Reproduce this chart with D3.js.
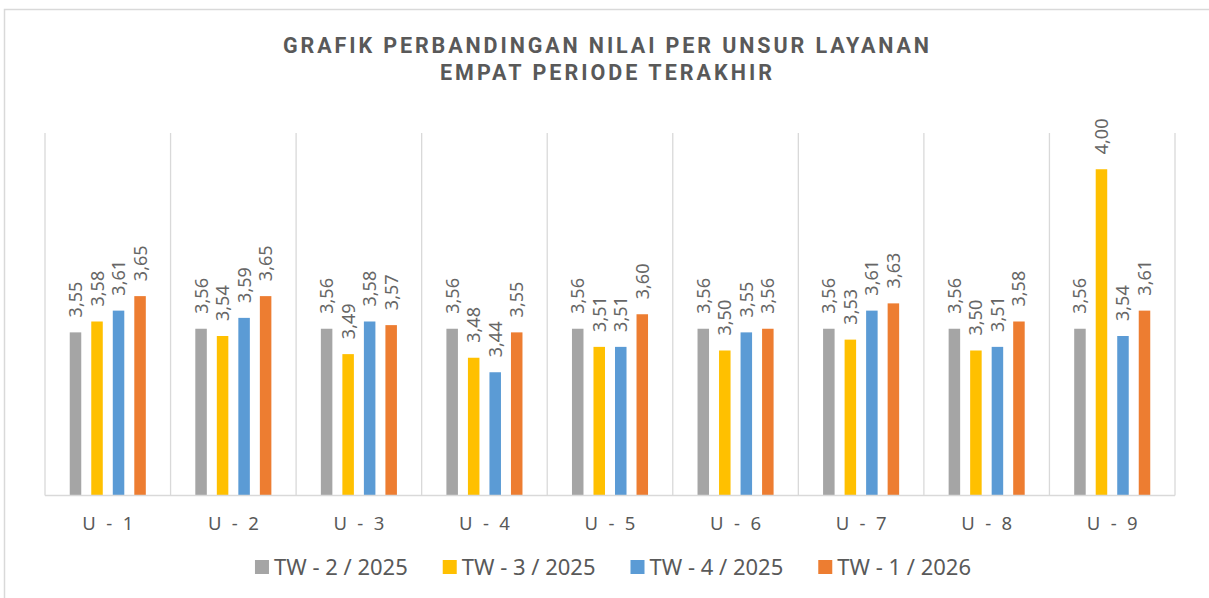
<!DOCTYPE html>
<html>
<head>
<meta charset="utf-8">
<script src="https://cdn.jsdelivr.net/npm/d3@7"></script>
<style>
  body { margin: 0; background: #fff; }
  svg { display: block; }
  text { font-family: "Noto Sans", sans-serif; fill: #595959; }
</style>
</head>
<body>
<svg id="chart" width="1209" height="598"></svg>
<script>
var categories = ['U - 1', 'U - 2', 'U - 3', 'U - 4', 'U - 5', 'U - 6', 'U - 7', 'U - 8', 'U - 9'];
var periods = ['TW - 2 / 2025', 'TW - 3 / 2025', 'TW - 4 / 2025', 'TW - 1 / 2026'];
var tw2_2025 = [3.55, 3.56, 3.56, 3.56, 3.56, 3.56, 3.56, 3.56, 3.56];
var tw3_2025 = [3.58, 3.54, 3.49, 3.48, 3.51, 3.50, 3.53, 3.50, 4.00];
var tw4_2025 = [3.61, 3.59, 3.58, 3.44, 3.51, 3.55, 3.61, 3.51, 3.54];
var tw1_2026 = [3.65, 3.65, 3.57, 3.55, 3.60, 3.56, 3.63, 3.58, 3.61];
var titleLines = ['GRAFIK PERBANDINGAN NILAI PER UNSUR LAYANAN', 'EMPAT PERIODE TERAKHIR'];

var seriesValues = [tw2_2025, tw3_2025, tw4_2025, tw1_2026];
var colors = ['#a5a5a5', '#ffc000', '#5b9bd5', '#ed7d31'];

var svg = d3.select('#chart');
var plot = { left: 45, right: 1175, top: 133, bottom: 495.5 };

// chart frame (top and left edges visible)
svg.append('path')
    .attr('d', 'M4.5,598 V9.5 H1209')
    .style('fill', 'none')
    .style('stroke', '#d9d9d9')
    .style('stroke-width', 1.5);

/* Title */
var titleWidths = [646, 332];
svg.append('g').selectAll('text')
    .data(titleLines)
    .join('text')
    .attr('x', 606)
    .attr('y', function(d, i) { return 53 + i * 27; })
    .attr('text-anchor', 'middle')
    .attr('textLength', function(d, i) { return titleWidths[i]; })
    .attr('lengthAdjust', 'spacing')
    .style('font-family', 'Roboto, "Liberation Sans", sans-serif')
    .style('font-weight', 'bold')
    .style('font-size', '21.5px')
    .text(function(d) { return d; });

/* Scales */
var x0 = d3.scaleBand().domain(categories).range([plot.left, plot.right]);
var x1 = d3.scaleBand().domain(d3.range(periods.length))
    .range([0, x0.bandwidth()])
    .paddingInner(0.465)
    .paddingOuter(1.15);
var y = d3.scaleLinear().domain([3.1, 4.1]).range([plot.bottom, plot.top]);

/* Grid */
var bounds = categories.map(function(c) { return x0(c); }).concat([plot.right]);
svg.append('g').selectAll('line')
    .data(bounds)
    .join('line')
    .attr('x1', function(d) { return d; })
    .attr('x2', function(d) { return d; })
    .attr('y1', plot.top)
    .attr('y2', plot.bottom)
    .style('stroke', '#d9d9d9')
    .style('stroke-width', 1.3);

/* Bars */
var groups = svg.append('g').selectAll('g')
    .data(categories)
    .join('g')
    .attr('transform', function(d) { return 'translate(' + x0(d) + ',0)'; });

groups.selectAll('rect')
    .data(function(d, ci) {
        return seriesValues.map(function(s, si) { return { s: si, v: s[ci] }; });
    })
    .join('rect')
    .attr('x', function(d) { return x1(d.s); })
    .attr('width', x1.bandwidth())
    .attr('y', function(d) { return y(d.v); })
    .attr('height', function(d) { return plot.bottom - y(d.v); })
    .style('fill', function(d) { return colors[d.s]; });

groups.selectAll('text')
    .data(function(d, ci) {
        return seriesValues.map(function(s, si) { return { s: si, v: s[ci] }; });
    })
    .join('text')
    .attr('transform', function(d) {
        return 'translate(' + (x1(d.s) + x1.bandwidth() / 2) + ',' + (y(d.v) - 15) + ') rotate(-90)';
    })
    .attr('dy', '0.36em')
    .style('font-size', '18px')
    .style('fill', '#666')
    .text(function(d) { return d.v.toFixed(2).replace('.', ','); });

// axis baseline
svg.append('line')
    .attr('x1', plot.left).attr('x2', plot.right)
    .attr('y1', plot.bottom).attr('y2', plot.bottom)
    .style('stroke', '#d9d9d9')
    .style('stroke-width', 1.5);

/* Category labels */
svg.append('g').selectAll('text')
    .data(categories)
    .join('text')
    .attr('x', function(d) { return x0(d) + x0.bandwidth() / 2 + 1.4; })
    .attr('y', 530)
    .attr('text-anchor', 'middle')
    .style('font-size', '18.5px')
    .style('letter-spacing', '2.8px')
    .text(function(d) { return d; });

/* Legend */
var legend = svg.append('g');
var items = legend.selectAll('g')
    .data(periods)
    .join('g');
items.append('rect')
    .attr('width', 14).attr('height', 14)
    .attr('y', 560)
    .style('fill', function(d, i) { return colors[i]; });
items.append('text')
    .attr('x', 19)
    .attr('y', 575)
    .style('font-size', '22px')
    .text(function(d) { return d; });

var offset = 0, offsets = [];
items.each(function() {
    offsets.push(offset);
    offset += 19 + this.querySelector('text').getComputedTextLength() + 35;
});
var total = offset - 35;
var start = 613 - total / 2;
items.attr('transform', function(d, i) { return 'translate(' + (start + offsets[i]) + ',0)'; });
</script>
</body>
</html>
